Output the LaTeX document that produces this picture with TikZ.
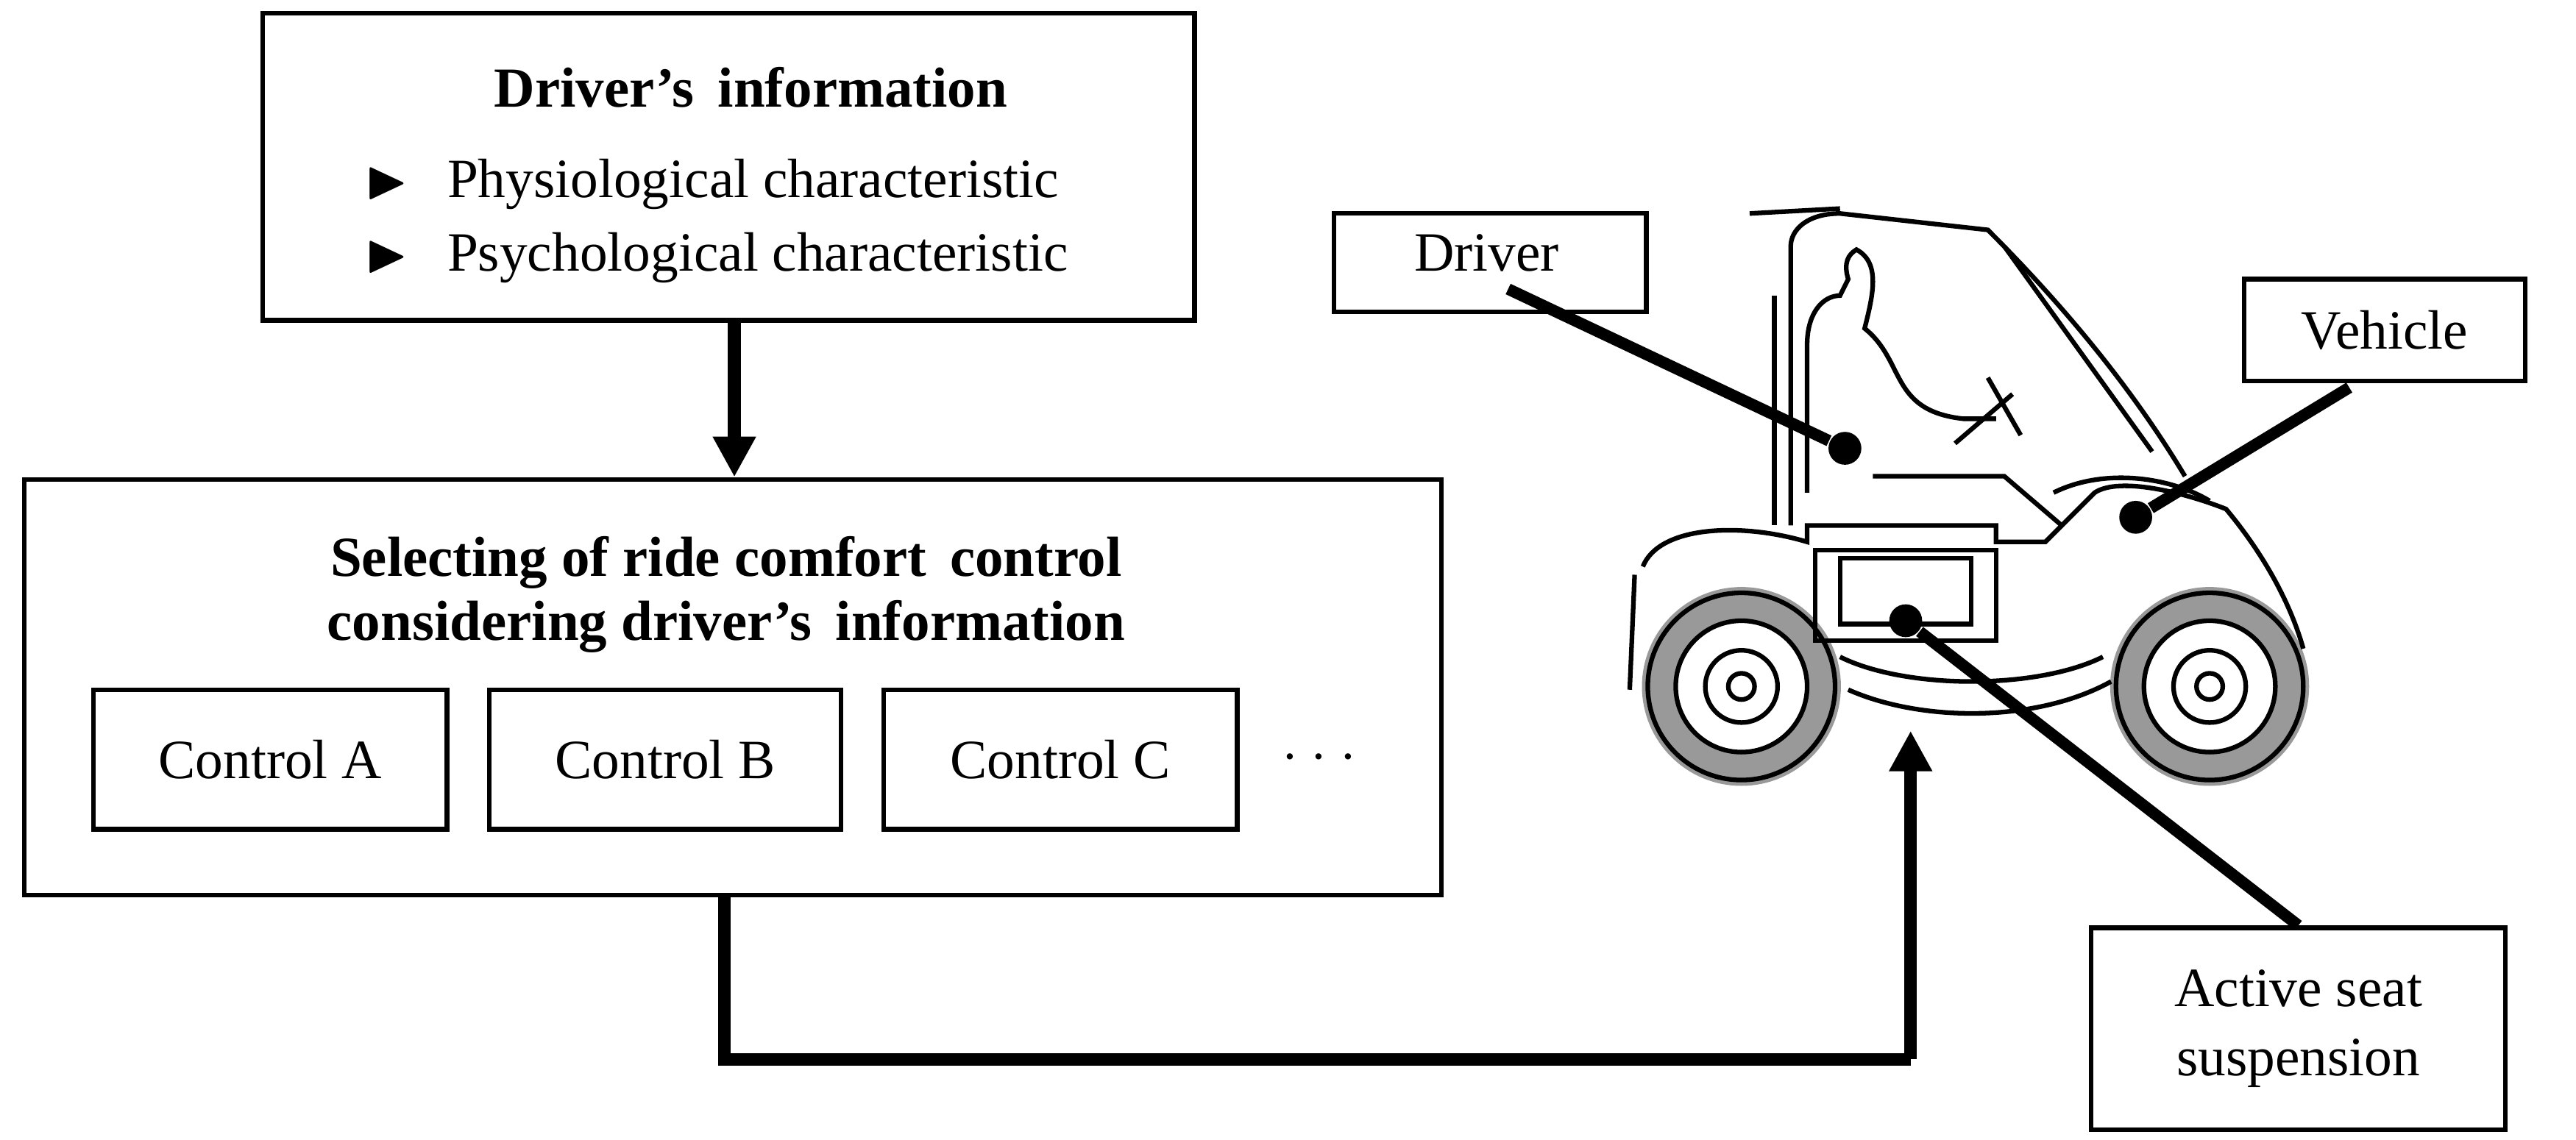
\documentclass[tikz,border=0pt]{standalone}
\usepackage{fontspec}
\setmainfont{Liberation Serif}
\usepackage{amssymb}
\usetikzlibrary{positioning, arrows.meta}
\tikzset{
box/.style={draw, thick, minimum height=0.6cm}, % plain framed box
link/.style={line width=2.2pt, -{Triangle[length=7pt,width=7pt]}}, % flow arrows
pin/.style={line width=2pt}, % label pointers
dot/.style={circle, fill=black, inner sep=0pt, minimum size=0.2cm},
}
\begin{document}
\begin{tikzpicture}[x=0.01cm, y=-0.01cm, font=\fontsize{9.6}{12}\selectfont]
    \useasboundingbox (0,0) rectangle (1568,694);

    % left part
    \node[box, minimum width=5.67cm, minimum height=1.87cm] (info) at (443.5,101.5) {};
    \node[font=\fontsize{9.8}{12}\selectfont\bfseries] (infot) at (457,53) {Driver’s\, information};
    \node[anchor=west] (p1) at (210,112) {$\blacktriangleright$\hspace{0.7em}Physiological characteristic};
    \node[anchor=west] (p2) at (210,157) {$\blacktriangleright$\hspace{0.7em}Psychological characteristic};

    \node[box, minimum width=8.62cm, minimum height=2.53cm] (sel) at (446,418.5) {};
    \node[font=\fontsize{9.8}{12}\selectfont\bfseries, align=center] (selt) at (442,362)
        {Selecting of ride comfort\, control\\[-1pt]considering driver’s\, information};
    \node[box, minimum width=2.15cm, minimum height=0.85cm] (ca) at (164.5,462.5) {Control A};
    \node[box, minimum width=2.14cm, minimum height=0.85cm] (cb) at (405,462.5) {Control B};
    \node[box, minimum width=2.15cm, minimum height=0.85cm] (cc) at (645.5,462.5) {Control C};
    \node (more) at (803,462) {$\cdot\cdot\cdot$};

    \coordinate (d1) at (441,645);
    \coordinate (d2) at (1163,645);
    \coordinate (tip) at (1163,445);
    \draw[link] (info.south -| 447,0) -- (sel.north -| 447,0);
    \draw[line width=2.2pt] (sel.south -| d1) -- (d1) -- (d2);
    \draw[link] (d2) -- (tip);

    % vehicle
    \begin{scope}[thick]
        \foreach \wx in {1060,1345} {
            \draw[line width=6pt, gray!80] (\wx,418) circle (50);
            \draw (\wx,418) circle (57);
            \draw (\wx,418) circle (40);
            \draw (\wx,418) circle (22);
            \draw (\wx,418) circle (8);
        }
        \draw (1000,345) .. controls (1010,320) and (1060,318) .. (1100,330)
              -- (1100,320) -- (1215,320) -- (1215,330)
              -- (1245,330) -- (1275,300) .. controls (1290,290) and (1330,300) .. (1355,310)
              .. controls (1380,340) and (1395,370) .. (1402,395);
        \draw (995,350) -- (992,420) (1120,400) .. controls (1160,420) and (1240,420) .. (1280,400);
        \draw (1125,420) .. controls (1170,440) and (1240,440) .. (1285,415);
        \draw (1090,320) -- (1090,150) .. controls (1090,140) and (1100,130) .. (1120,130)
              -- (1210,140) .. controls (1260,190) and (1300,240) .. (1330,290);
        \draw (1065,130) -- (1120,127) (1220,150) -- (1310,275);
        \draw (1080,180) -- (1080,320);
        \draw (1100,300) -- (1100,210) .. controls (1100,190) and (1110,180) .. (1120,180)
              -- (1125,170) .. controls (1122,160) and (1125,155) .. (1130,152)
              .. controls (1145,160) and (1140,180) .. (1135,200)
              .. controls (1160,220) and (1150,250) .. (1195,255) -- (1215,255)
              (1140,290) -- (1220,290) -- (1255,320);
        \draw (1190,270) -- (1225,240) (1210,230) -- (1230,265);
        \draw (1105,335) rectangle (1215,390);
        \draw (1120,340) rectangle (1200,380);
        \draw (1250,300) .. controls (1280,285) and (1320,290) .. (1345,305);
    \end{scope}

    % labels on the vehicle
    \node[box, minimum width=1.9cm] (drv) at (907,160) {};
    \node (drvt) at (905,154) {Driver};
    \node[box, minimum width=1.71cm, minimum height=0.62cm] (veh) at (1451.5,201) {Vehicle};
    \node[box, minimum width=2.52cm, minimum height=1.23cm, align=center] (seat) at (1399,626.5)
        {Active seat\\suspension};
    \node[dot] (dd) at (1123,273) {};
    \node[dot] (dv) at (1300,315) {};
    \node[dot] (ds) at (1160,378) {};
    \draw[pin] (918,176) -- (dd);
    \draw[pin] (1430,236) -- (dv);
    \draw[pin] (seat.north) -- (ds);
\end{tikzpicture}
\end{document}
